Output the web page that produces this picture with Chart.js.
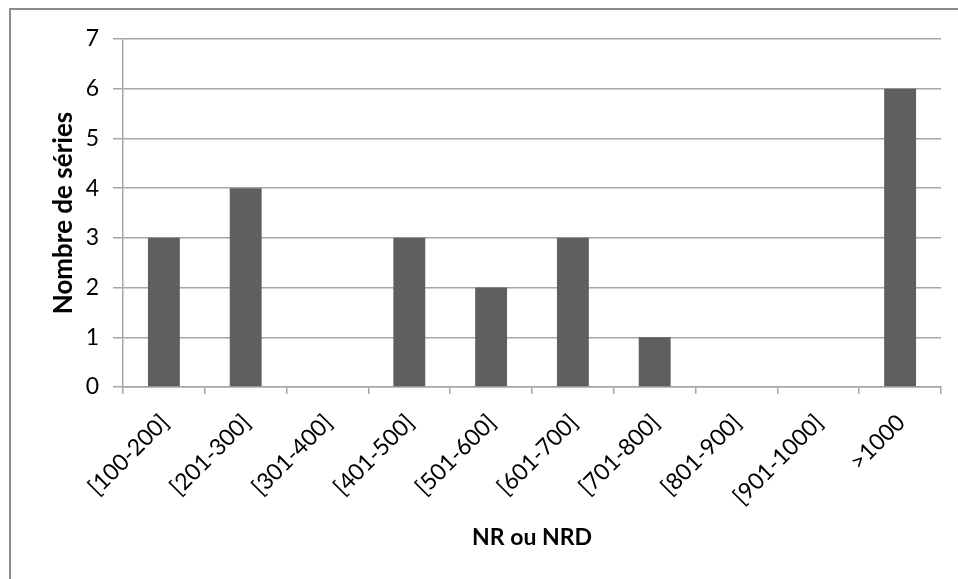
<!DOCTYPE html>
<html>
<head>
<meta charset="utf-8">
<script src="https://cdn.jsdelivr.net/npm/chart.js@4.4.0/dist/chart.umd.min.js"></script>
<style>
    html, body { margin: 0; padding: 0; background: #fff; }
    #wrap { position: relative; width: 958px; height: 579px; overflow: hidden; }
    #frame {
        position: absolute; left: 9px; top: 8px; width: 990px; height: 600px;
        border-left: 2px solid #8c8c8c; border-top: 2px solid #8c8c8c;
    }
    #chart { position: absolute; left: 0; top: 0; }
</style>
</head>
<body>
<div id="wrap">
    <div id="frame"></div>
    <canvas id="chart" width="958" height="579"></canvas>
</div>
<script>
// Histogram data
const categories = ['[100-200]', '[201-300]', '[301-400]', '[401-500]', '[501-600]',
    '[601-700]', '[701-800]', '[801-900]', '[901-1000]', '>1000'];
const seriesCounts = [3, 4, 0, 3, 2, 3, 1, 0, 0, 6];
const yTicks = [0, 1, 2, 3, 4, 5, 6, 7];

const xTitle = 'NR ou NRD';
const yTitle = 'Nombre de séries';

const gridGray = '#a6a6a6';
const fontFamily = 'Lato, "Open Sans", sans-serif';

document.addEventListener('DOMContentLoaded', function() {
    initChart();
});

function initChart() {
    const ctx = document.getElementById('chart');
    new Chart(ctx, {
        type: 'bar',
        data: {
            labels: categories,
            datasets: [{
                data: seriesCounts,
                backgroundColor: '#5f5f5f',
                borderWidth: 0,
                categoryPercentage: 1.0,
                barPercentage: 0.39
            }]
        },
        options: {
            responsive: false,
            animation: false,
            layout: {
                padding: { top: 39, right: 17, left: 0, bottom: 0 }
            },
            plugins: {
                legend: { display: false },
                tooltip: { enabled: false }
            },
            scales: {
                x: {
                    grid: {
                        offset: true,
                        drawOnChartArea: false,
                        drawTicks: true,
                        tickLength: 7,
                        color: gridGray,
                        lineWidth: 1.5
                    },
                    border: { color: gridGray, width: 1.5 },
                    ticks: {
                        autoSkip: false,
                        maxRotation: 45,
                        minRotation: 45,
                        padding: 15,
                        labelOffset: 1,
                        color: '#000',
                        font: { family: fontFamily, size: 23 }
                    },
                    title: {
                        display: true,
                        text: xTitle,
                        color: '#000',
                        padding: { top: 0, bottom: 28 },
                        font: { family: fontFamily, size: 23, weight: 'bold' }
                    },
                    afterFit: function(scale) {
                        scale.height = 579 - 387;
                    }
                },
                y: {
                    min: 0,
                    max: 7,
                    afterBuildTicks: function(scale) {
                        scale.ticks = yTicks.map(v => ({ value: v }));
                    },
                    grid: {
                        color: gridGray,
                        lineWidth: 1.5,
                        tickLength: 10
                    },
                    border: { color: gridGray, width: 1.5 },
                    ticks: {
                        padding: 14,
                        color: '#000',
                        font: { family: fontFamily, size: 23 }
                    },
                    title: {
                        display: true,
                        text: yTitle,
                        color: '#000',
                        padding: { top: 48, bottom: 0 },
                        font: { family: fontFamily, size: 26, weight: 'bold' }
                    },
                    afterFit: function(scale) {
                        scale.width = 123;
                    }
                }
            }
        }
    });
}
</script>
</body>
</html>
